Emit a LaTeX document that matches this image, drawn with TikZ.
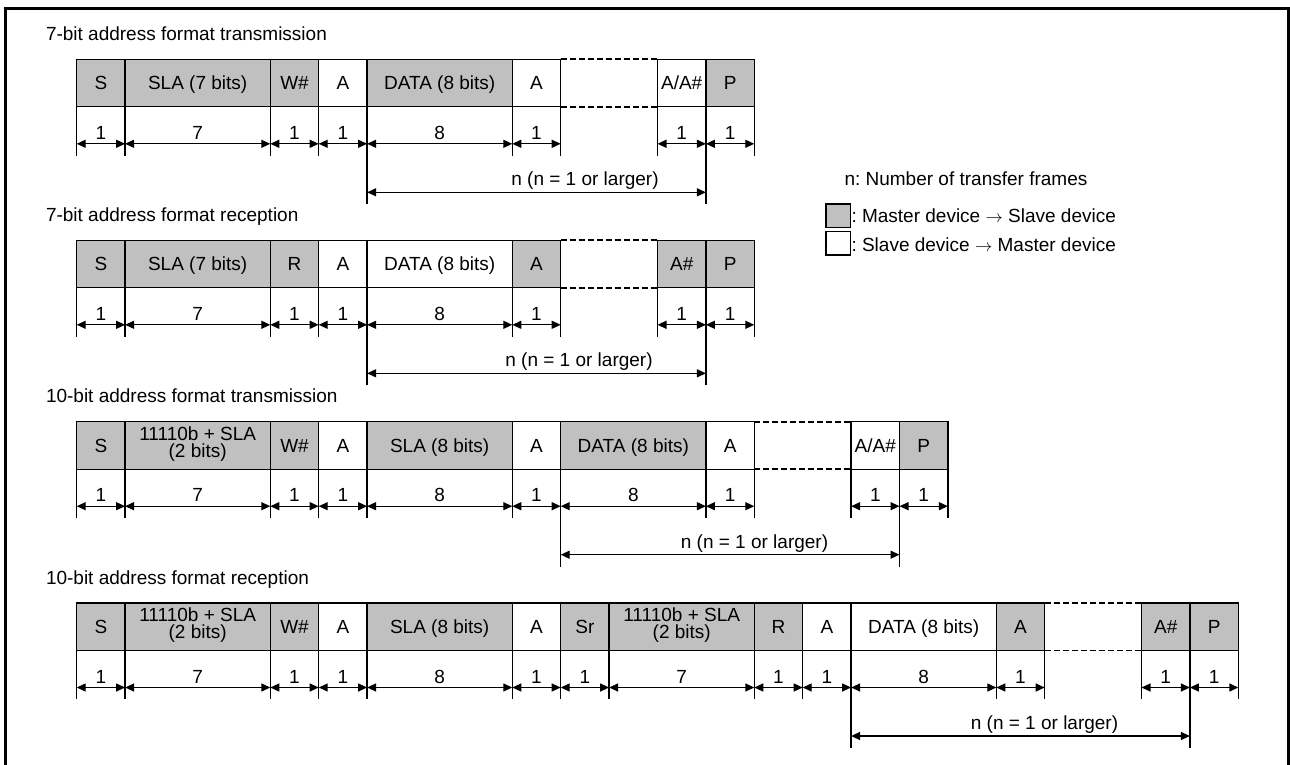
\documentclass[tikz,border=0pt]{standalone}
\usepackage{fontspec}
\setmainfont{Liberation Sans}
\usetikzlibrary{arrows.meta}
\definecolor{mgray}{RGB}{192,192,192}
\frenchspacing
\def\uw{48.4}
\def\xo{76.7}
\tikzset{
  every node/.style={font=\fontsize{19}{15.5}\selectfont\frenchspacing, inner sep=0pt, outer sep=0pt},
  ln/.style={line width=1.3pt},
  c0/.style={draw, fill=mgray, line width=1.3pt},
  c1/.style={draw, fill=white, line width=1.3pt},
  c2/.style={},
  so/.style={text height=13.7pt, text depth=0pt},
  st/.style={align=center, yshift=1.5pt},
  dimarrow/.style={line width=1.3pt, {Triangle[length=9pt,width=8pt]}-{Triangle[length=9pt,width=8pt]}},
  gapline/.style={line width=1.9pt, dash pattern=on 6pt off 3pt},
}
\newcommand\framerow[3]{%
  \xdef\curx{0}%
  \foreach \lab/\w/\f/\b/\s [count=\i] in {#3} {%
    \pgfmathsetmacro\xa{\xo+\curx*\uw}%
    \pgfmathsetmacro\xb{\xo+(\curx+\w)*\uw}%
    \pgfmathsetmacro\xc{(\xa+\xb)/2}%
    \pgfmathsetmacro\cw{\xb-\xa}%
    \pgfmathsetmacro\yc{#2+23.75}%
    \node[c\f, minimum width=\cw pt, minimum height=47.5pt] (#1\i) at (\xc,\yc) {};%
    \ifnum\f=2
      \draw[gapline] (#1\i.north west) -- (#1\i.north east);
      \draw[gapline] (#1\i.south west) -- (#1\i.south east);
    \else
      \node[s\s] (#1\i-t) at (#1\i.center) {\lab};
      \draw[ln] (#1\i.south west) -- ++(0,48.8);
      \draw[ln] (#1\i.south east) -- ++(0,48.8);
      \draw[dimarrow] ([yshift=-37pt]#1\i.south west) -- ([yshift=-37pt]#1\i.south east);
      \node[anchor=base] (#1\i-d) at ([yshift=-32.5pt]#1\i.south) {\b};
    \fi
    \pgfmathsetmacro\nx{\curx+\w}%
    \xdef\curx{\nx}%
  }%
}
\newcommand\nspan[5]{%
  \draw[ln] (#1#2.south west) -- ++(0,97.5);
  \draw[ln] (#1#3.south west) -- ++(0,97.5);
  \draw[dimarrow] ([yshift=-85.5pt]#1#2.south west) -- ([yshift=-85.5pt]#1#3.south west);
  \node[anchor=base] (#1n) at (#5,#4+126.5) {n (n = 1 or larger)};
}
\newcommand\aah{A/A\#}
\newcommand\tenb{11110b + SLA\\[1.5pt](2 bits)}
\begin{document}
\begin{tikzpicture}[x=1pt,y=-1pt]
\useasboundingbox (0,0) rectangle (1290,765);
\draw[line width=3.3pt] (5.6,775) -- (5.6,8.3) -- (1288.3,8.3) -- (1288.3,775);

% titles
\node[anchor=base west] (t1) at (46,40.3) {7-bit address format transmission};
\node[anchor=base west] (t2) at (46,221.3) {7-bit address format reception};
\node[anchor=base west] (t3) at (46,402.7) {10-bit address format transmission};
\node[anchor=base west] (t4) at (46,584) {10-bit address format reception};

% row 1
\framerow{a}{59.3}{S/1/0/1/o, SLA (7 bits)/3/0/7/o, W\#/1/0/1/o, A/1/1/1/o, DATA (8 bits)/3/0/8/o, A/1/1/1/o, {}/2/2/{}/o, \aah/1/1/1/o, P/1/0/1/o}
\nspan{a}{5}{9}{59.3}{585}

% row 2
\framerow{b}{240.3}{S/1/0/1/o, SLA (7 bits)/3/0/7/o, R/1/0/1/o, A/1/1/1/o, DATA (8 bits)/3/1/8/o, A/1/0/1/o, {}/2/2/{}/o, A\#/1/0/1/o, P/1/0/1/o}
\nspan{b}{5}{9}{240.3}{579}

% row 3
\framerow{c}{421.7}{S/1/0/1/o, \tenb/3/0/7/t, W\#/1/0/1/o, A/1/1/1/o, SLA (8 bits)/3/0/8/o, A/1/1/1/o, DATA (8 bits)/3/0/8/o, A/1/1/1/o, {}/2/2/{}/o, \aah/1/1/1/o, P/1/0/1/o}
\nspan{c}{7}{11}{421.7}{754.5}

% row 4
\framerow{d}{603}{S/1/0/1/o, \tenb/3/0/7/t, W\#/1/0/1/o, A/1/1/1/o, SLA (8 bits)/3/0/8/o, A/1/1/1/o, Sr/1/0/1/o, \tenb/3/0/7/t, R/1/0/1/o, A/1/1/1/o, DATA (8 bits)/3/1/8/o, A/1/0/1/o, {}/2/2/{}/o, A\#/1/0/1/o, P/1/0/1/o}
\nspan{d}{11}{15}{603}{1044.5}

% legend
\node[anchor=base west] (lg0) at (844.5,185) {n: Number of transfer frames};
\node[draw, fill=mgray, line width=1.3pt, minimum width=24.7pt, minimum height=23.7pt] (lg1b) at (838.3,215.8) {};
\node[anchor=base west] (lg1) at (851.5,222.5) {: Master device $\rightarrow$ Slave device};
\node[draw, fill=white, line width=1.3pt, minimum width=24.7pt, minimum height=23.3pt] (lg2b) at (838.3,243.3) {};
\node[anchor=base west] (lg2) at (851.5,251) {: Slave device $\rightarrow$ Master device};
\end{tikzpicture}
\end{document}
